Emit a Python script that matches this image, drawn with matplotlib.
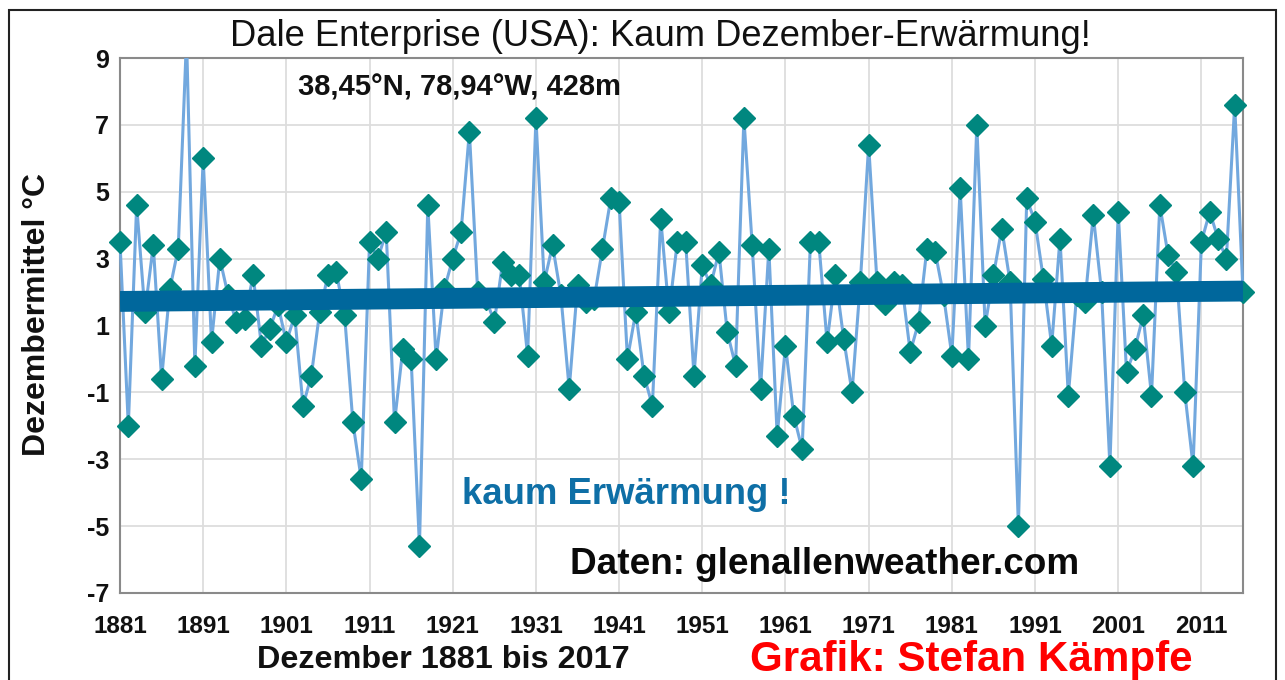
import numpy as np
import matplotlib
matplotlib.use("Agg")
import matplotlib.pyplot as plt
from matplotlib.patches import Rectangle
from matplotlib.transforms import Bbox, TransformedBbox

# ---------------- data ----------------
years = list(range(1881, 2017))
december_mean = [
    3.5, -2.0, 4.6, 1.4, 3.4, -0.6, 2.1, 3.3, 9.6, -0.2,      # 1881-1890
    6.0, 0.5, 3.0, 1.9, 1.1, 1.2, 2.5, 0.4, 0.9, 1.6,         # 1891-1900
    0.5, 1.3, -1.4, -0.5, 1.4, 2.5, 2.6, 1.3, -1.9, -3.6,     # 1901-1910
    3.5, 3.0, 3.8, -1.9, 0.3, 0.0, -5.6, 4.6, 0.0, 2.1,       # 1911-1920
    3.0, 3.8, 6.8, 2.0, 1.8, 1.1, 2.9, 2.5, 2.5, 0.1,         # 1921-1930
    7.2, 2.3, 3.4, 1.9, -0.9, 2.2, 1.7, 1.8, 3.3, 4.8,        # 1931-1940
    4.7, 0.0, 1.4, -0.5, -1.4, 4.2, 1.4, 3.5, 3.5, -0.5,      # 1941-1950
    2.8, 2.2, 3.2, 0.8, -0.2, 7.2, 3.4, -0.9, 3.3, -2.3,      # 1951-1960
    0.4, -1.7, -2.7, 3.5, 3.5, 0.5, 2.5, 0.6, -1.0, 2.3,      # 1961-1970
    6.4, 2.3, 1.65, 2.3, 2.2, 0.2, 1.1, 3.3, 3.2, 1.9,        # 1971-1980
    0.1, 5.1, 0.0, 7.0, 1.0, 2.5, 3.9, 2.3, -5.0, 4.8,        # 1981-1990
    4.1, 2.4, 0.4, 3.6, -1.1, 1.9, 1.7, 4.3, 2.0, -3.2,       # 1991-2000
    4.4, -0.4, 0.3, 1.3, -1.1, 4.6, 3.1, 2.6, -1.0, -3.2,     # 2001-2010
    3.5, 4.4, 3.6, 3.0, 7.6, 2.0,                             # 2011-2016
]
trend_years = [1881, 2016]
trend_values = [1.72, 2.03]
y_ticks = [-7, -5, -3, -1, 1, 3, 5, 7, 9]
x_tick_years = list(range(1881, 2012, 10))
x_tick_labels = [str(y) for y in x_tick_years]

title = "Dale Enterprise (USA): Kaum Dezember-Erwärmung!"
subtitle = "38,45°N, 78,94°W, 428m"
y_label = "Dezembermittel °C"
x_label = "Dezember 1881 bis 2017"
note_trend = "kaum Erwärmung !"
note_source = "Daten: glenallenweather.com"
note_author = "Grafik: Stefan Kämpfe"

# ---------------- style ----------------
plt.rcParams['font.family'] = ['Liberation Sans', 'DejaVu Sans']
plt.rcParams['axes.unicode_minus'] = False

W, H = 1285, 680
fig = plt.figure(figsize=(W / 100, H / 100), dpi=100)


def fx(px):
    return px / W


def fy(py):
    return 1 - py / H


L, R, T, B = 120, 1243, 58, 593
ax = fig.add_axes([fx(L), fy(B), fx(R) - fx(L), fy(T) - fy(B)])

line, = ax.plot(years, december_mean, color='#72a8de', lw=2.2, marker='D',
                ms=11, mfc='#00877f', mec='#00877f', zorder=3)
clip = TransformedBbox(Bbox([[-0.02, 0.0], [1.02, 1.0]]), ax.transAxes)
line.set_clip_box(clip)

ax.plot(trend_years, trend_values, color='#00679c', lw=15,
        solid_capstyle='butt', zorder=4)

ax.set_xlim(1881, 2016)
ax.set_ylim(-7, 9)
ax.set_yticks(y_ticks)
ax.set_xticks(x_tick_years)
ax.set_xticklabels(x_tick_labels)
ax.grid(True, color='#dddddd', lw=1.3)
ax.set_axisbelow(True)
ax.tick_params(axis='both', length=0)
ax.tick_params(axis='y', pad=8, labelsize=18)
ax.tick_params(axis='x', pad=16, labelsize=17.5)
for lab in ax.get_xticklabels() + ax.get_yticklabels():
    lab.set_fontweight('bold')
    lab.set_color('#111111')
for sp in ax.spines.values():
    sp.set_color('#8a8a8a')
    sp.set_linewidth(1.5)

fig.text(fx(660), fy(37), title, ha='center', va='center', fontsize=26.2,
         color='#111111')
fig.text(fx(298), fy(88), subtitle, ha='left', va='center', fontsize=21,
         fontweight='bold', color='#111111')
fig.text(fx(462), fy(495), note_trend, ha='left', va='center', fontsize=26.3,
         fontweight='bold', color='#0e6fa6')
fig.text(fx(570), fy(565), note_source, ha='left', va='center', fontsize=26.6,
         fontweight='bold', color='#0a0a0a')
fig.text(fx(443), fy(660), x_label, ha='center', va='center', fontsize=23.3,
         fontweight='bold', color='#111111')
fig.text(fx(971), fy(660), note_author, ha='center', va='center', fontsize=30.3,
         fontweight='bold', color='#ff0000')
fig.text(fx(37), fy(315), y_label, ha='center', va='center', fontsize=23,
         fontweight='bold', rotation=90, color='#111111')

fig.add_artist(Rectangle((fx(9), fy(700)), fx(1276) - fx(9), fy(10) - fy(700),
                         fill=False, ec='#222222', lw=1.5,
                         transform=fig.transFigure))

fig.savefig("out.png", dpi=100)
